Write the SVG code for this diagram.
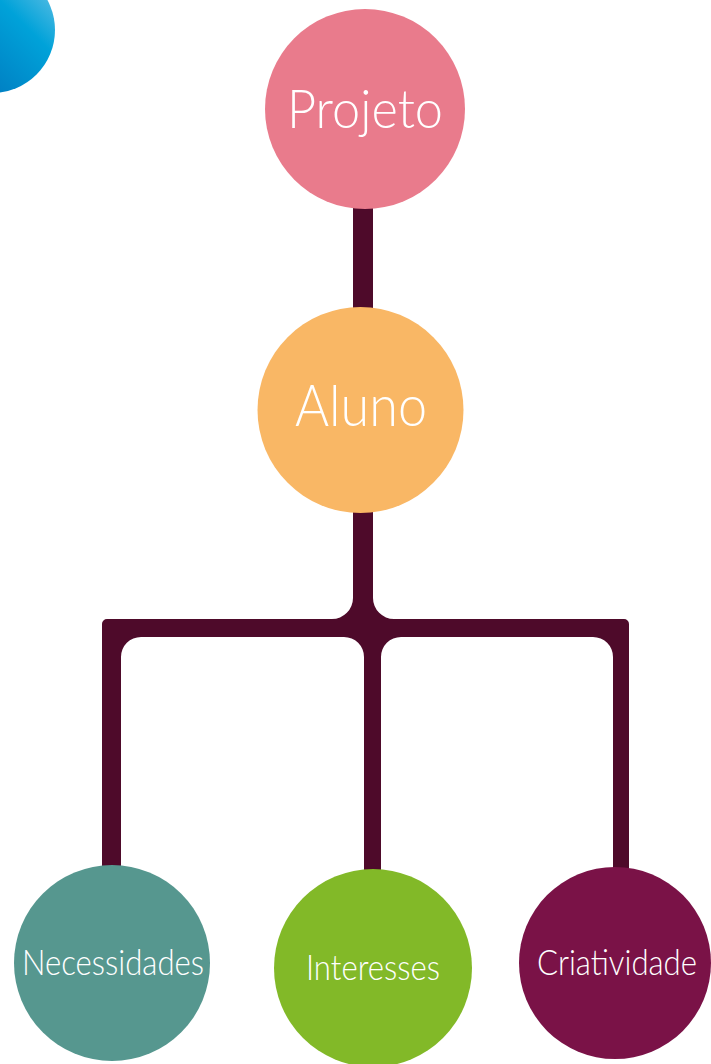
<svg xmlns="http://www.w3.org/2000/svg" width="711" height="1064" viewBox="0 0 711 1064">
<defs>
<linearGradient id="blue" x1="1" y1="0" x2="0" y2="1">
<stop offset="0" stop-color="#7cc8e8"/>
<stop offset="0.35" stop-color="#00a2d9"/>
<stop offset="1" stop-color="#0068b4"/>
</linearGradient>
<style>
.lbl{font-family:Lato,"Open Sans","Liberation Sans",sans-serif;font-weight:300;fill:#ffffff;text-anchor:middle}
.big{font-size:54px}
.small{font-size:35px}
.conn{fill:#4e0a2a}
</style>
</defs>
<rect width="711" height="1064" fill="#ffffff"/>
<circle id="deco" cx="-8" cy="30" r="63" fill="url(#blue)"/>
<g id="connectors">
<rect class="conn" x="353" y="190" width="20" height="130"/>
<path class="conn" d="M353 500 L353 598 A21 21 0 0 1 332 619 L107 619 A5 5 0 0 0 102 624 L102 875 L121 875 L121 657 A20 20 0 0 1 141 637 L344 637 A20 20 0 0 1 364 657 L364 880 L381 880 L381 657 A20 20 0 0 1 401 637 L593 637 A20 20 0 0 1 613 657 L613 875 L629 875 L629 624 A5 5 0 0 0 624 619 L394 619 A21 21 0 0 1 373 598 L373 500 Z"/>
</g>
<g id="projeto">
<circle cx="365" cy="109" r="100" fill="#e97b8c"/>
<text class="lbl big" x="365" y="128" textLength="156" lengthAdjust="spacingAndGlyphs">Projeto</text>
</g>
<g id="aluno">
<circle cx="360.5" cy="410" r="103" fill="#f9b765"/>
<text class="lbl big" x="361" y="426" textLength="132" lengthAdjust="spacingAndGlyphs" style="font-size:57px">Aluno</text>
</g>
<g id="necessidades">
<circle cx="112" cy="963" r="98" fill="#56978f"/>
<text class="lbl small" x="113" y="975" textLength="182" lengthAdjust="spacingAndGlyphs">Necessidades</text>
</g>
<g id="interesses">
<circle cx="373" cy="968" r="99" fill="#82b928"/>
<text class="lbl small" x="373" y="980" textLength="134" lengthAdjust="spacingAndGlyphs">Interesses</text>
</g>
<g id="criatividade">
<circle cx="615" cy="963" r="96" fill="#7a1247"/>
<text class="lbl small" x="617" y="975" textLength="160" lengthAdjust="spacingAndGlyphs">Criatividade</text>
</g>
</svg>
